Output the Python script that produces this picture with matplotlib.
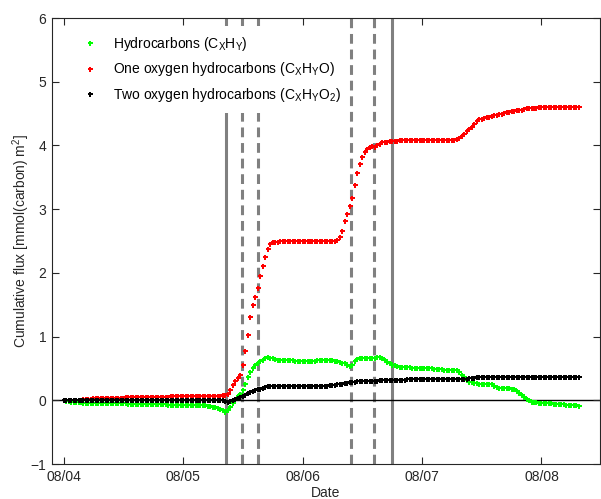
import numpy as np
import matplotlib
matplotlib.use("Agg")
import matplotlib.pyplot as plt

# Cumulative fluxes, sampled every 30 minutes starting 08/04 00:00
hydrocarbons = [
    0.00, -0.01, -0.01, -0.02, -0.02, -0.03, -0.03, -0.03, -0.04, -0.04, -0.04, -0.04,
    -0.05, -0.05, -0.05, -0.05, -0.05, -0.05, -0.05, -0.05, -0.05, -0.05, -0.05, -0.05,
    -0.05, -0.05, -0.06, -0.06, -0.06, -0.06, -0.06, -0.06, -0.06, -0.06, -0.06, -0.06,
    -0.06, -0.06, -0.06, -0.06, -0.06, -0.06, -0.07, -0.07, -0.07, -0.07, -0.07, -0.07,
    -0.07, -0.07, -0.07, -0.07, -0.07, -0.07, -0.07, -0.07, -0.08, -0.08, -0.09, -0.09,
    -0.10, -0.11, -0.12, -0.14, -0.16, -0.18, -0.16, -0.10, -0.04, 0.02, 0.06, 0.10,
    0.16, 0.25, 0.36, 0.44, 0.51, 0.55, 0.58, 0.61, 0.64, 0.67, 0.68, 0.67,
    0.66, 0.65, 0.64, 0.64, 0.64, 0.63, 0.63, 0.63, 0.63, 0.62, 0.62, 0.62,
    0.62, 0.62, 0.62, 0.62, 0.62, 0.62, 0.63, 0.63, 0.63, 0.63, 0.63, 0.63,
    0.63, 0.62, 0.61, 0.60, 0.59, 0.58, 0.56, 0.54, 0.56, 0.62, 0.65, 0.66,
    0.66, 0.66, 0.66, 0.67, 0.67, 0.67, 0.68, 0.68, 0.66, 0.63, 0.60, 0.58,
    0.56, 0.55, 0.54, 0.53, 0.52, 0.52, 0.52, 0.52, 0.51, 0.51, 0.51, 0.51,
    0.50, 0.50, 0.50, 0.50, 0.50, 0.49, 0.49, 0.49, 0.49, 0.48, 0.48, 0.48,
    0.48, 0.48, 0.47, 0.44, 0.40, 0.36, 0.32, 0.29, 0.28, 0.27, 0.27, 0.26,
    0.26, 0.26, 0.26, 0.26, 0.25, 0.23, 0.21, 0.20, 0.20, 0.20, 0.20, 0.19,
    0.18, 0.17, 0.15, 0.11, 0.08, 0.05, 0.02, 0.00, -0.02, -0.03, -0.03, -0.04,
    -0.04, -0.04, -0.05, -0.05, -0.05, -0.06, -0.06, -0.06, -0.06, -0.06, -0.07, -0.07,
    -0.07, -0.07, -0.08, -0.09,
]

one_oxygen = [
    0.00, 0.00, 0.00, 0.00, 0.01, 0.01, 0.01, 0.01, 0.02, 0.02, 0.02, 0.02,
    0.03, 0.03, 0.03, 0.03, 0.03, 0.04, 0.04, 0.04, 0.04, 0.04, 0.04, 0.04,
    0.04, 0.05, 0.05, 0.05, 0.05, 0.05, 0.05, 0.05, 0.05, 0.05, 0.05, 0.05,
    0.05, 0.05, 0.05, 0.05, 0.05, 0.05, 0.05, 0.06, 0.06, 0.06, 0.06, 0.06,
    0.06, 0.06, 0.06, 0.06, 0.06, 0.06, 0.06, 0.06, 0.06, 0.06, 0.07, 0.07,
    0.07, 0.07, 0.07, 0.07, 0.08, 0.08, 0.10, 0.16, 0.24, 0.30, 0.35, 0.40,
    0.55, 0.78, 1.02, 1.30, 1.50, 1.62, 1.77, 1.95, 2.10, 2.25, 2.38, 2.46,
    2.48, 2.49, 2.49, 2.50, 2.50, 2.50, 2.50, 2.50, 2.50, 2.50, 2.50, 2.50,
    2.50, 2.50, 2.50, 2.50, 2.50, 2.50, 2.50, 2.50, 2.50, 2.50, 2.50, 2.50,
    2.50, 2.50, 2.51, 2.56, 2.66, 2.82, 2.93, 3.05, 3.17, 3.38, 3.56, 3.71,
    3.82, 3.89, 3.94, 3.98, 3.99, 3.97, 4.00, 4.03, 4.05, 4.06, 4.06, 4.07,
    4.07, 4.07, 4.07, 4.08, 4.08, 4.08, 4.08, 4.08, 4.08, 4.08, 4.08, 4.08,
    4.09, 4.09, 4.09, 4.09, 4.09, 4.09, 4.09, 4.09, 4.09, 4.09, 4.09, 4.09,
    4.09, 4.09, 4.10, 4.12, 4.15, 4.18, 4.22, 4.26, 4.29, 4.33, 4.38, 4.41,
    4.42, 4.43, 4.44, 4.45, 4.46, 4.47, 4.48, 4.49, 4.50, 4.51, 4.53, 4.53,
    4.54, 4.54, 4.55, 4.55, 4.56, 4.57, 4.58, 4.58, 4.59, 4.59, 4.59, 4.60,
    4.60, 4.60, 4.60, 4.60, 4.60, 4.60, 4.60, 4.60, 4.60, 4.60, 4.60, 4.60,
    4.60, 4.60, 4.60, 4.60,
]

two_oxygen = [
    0.00, 0.00, 0.00, 0.00, 0.00, 0.00, 0.00, 0.00, 0.00, 0.00, 0.00, 0.00,
    0.00, 0.00, 0.00, 0.00, 0.00, 0.00, 0.00, 0.00, 0.00, 0.00, 0.00, 0.00,
    0.00, 0.00, 0.00, 0.00, 0.00, 0.00, 0.00, 0.00, 0.00, 0.00, 0.00, 0.00,
    0.00, 0.00, 0.00, 0.00, 0.00, 0.00, 0.00, 0.00, 0.00, 0.00, 0.00, 0.00,
    0.00, 0.00, 0.00, 0.00, 0.00, 0.00, 0.00, 0.00, 0.00, 0.00, 0.00, 0.00,
    0.00, 0.00, 0.00, 0.00, 0.00, -0.01, -0.02, -0.01, 0.00, 0.02, 0.04, 0.05,
    0.06, 0.08, 0.11, 0.13, 0.15, 0.16, 0.17, 0.18, 0.20, 0.21, 0.22, 0.22,
    0.22, 0.22, 0.22, 0.22, 0.22, 0.22, 0.22, 0.22, 0.22, 0.22, 0.22, 0.22,
    0.22, 0.22, 0.22, 0.22, 0.23, 0.23, 0.23, 0.23, 0.23, 0.23, 0.23, 0.24,
    0.24, 0.24, 0.25, 0.25, 0.26, 0.27, 0.27, 0.28, 0.28, 0.29, 0.30, 0.30,
    0.30, 0.31, 0.31, 0.31, 0.31, 0.31, 0.31, 0.32, 0.32, 0.32, 0.32, 0.32,
    0.32, 0.32, 0.32, 0.32, 0.32, 0.32, 0.33, 0.33, 0.33, 0.33, 0.33, 0.33,
    0.33, 0.33, 0.33, 0.33, 0.33, 0.33, 0.33, 0.33, 0.33, 0.33, 0.33, 0.33,
    0.33, 0.33, 0.33, 0.33, 0.33, 0.34, 0.34, 0.35, 0.35, 0.35, 0.36, 0.36,
    0.36, 0.37, 0.37, 0.37, 0.37, 0.37, 0.37, 0.37, 0.37, 0.37, 0.37, 0.37,
    0.37, 0.37, 0.37, 0.37, 0.37, 0.37, 0.37, 0.37, 0.37, 0.37, 0.37, 0.37,
    0.37, 0.37, 0.37, 0.37, 0.37, 0.37, 0.37, 0.37, 0.37, 0.37, 0.37, 0.37,
    0.37, 0.37, 0.37, 0.37,
]

# Event markers (days after 08/04 00:00)
solid_events = [1.359, 2.753]
dashed_events = [1.493, 1.624, 2.408, 2.600]

day_ticks = [0, 1, 2, 3, 4]
day_labels = ["08/04", "08/05", "08/06", "08/07", "08/08"]
y_ticks = [-1, 0, 1, 2, 3, 4, 5, 6]

series_labels = [
    r"Hydrocarbons (C$_\mathregular{X}$H$_\mathregular{Y}$)",
    r"One oxygen hydrocarbons (C$_\mathregular{X}$H$_\mathregular{Y}$O)",
    r"Two oxygen hydrocarbons (C$_\mathregular{X}$H$_\mathregular{Y}$O$_\mathregular{2}$)",
]
series_colors = ["#00ff00", "#ff0000", "#000000"]

plt.rcParams["font.family"] = ["Liberation Sans", "DejaVu Sans"]
plt.rcParams["mathtext.default"] = "regular"

t = np.arange(len(one_oxygen)) / 48.0

fig = plt.figure(figsize=(6.01, 4.99), dpi=100)
ax = fig.add_axes([52 / 601, 35 / 499, 548 / 601, 446 / 499])

for x in solid_events:
    ax.axvline(x, color="#808080", lw=2.2, zorder=1)
for x in dashed_events:
    ax.axvline(x, color="#808080", lw=2.2, dashes=(3.2, 1.9), zorder=1)
ax.axhline(0, color="black", lw=1.0, zorder=1)

for vals, lab, col in zip([hydrocarbons, one_oxygen, two_oxygen], series_labels, series_colors):
    ax.plot(t, vals, linestyle="none", marker="P", markersize=3.6,
            markeredgewidth=0, color=col, label=lab, zorder=3)

ax.set_xlim(-0.097, 4.49)
ax.set_ylim(-1, 6)
ax.set_xticks(day_ticks)
ax.set_xticklabels(day_labels)
ax.set_yticks(y_ticks)
ax.tick_params(direction="in", top=True, right=True, length=5, labelsize=10,
               colors="#262626", pad=4)
for s in ax.spines.values():
    s.set_color("#262626")
    s.set_linewidth(0.8)

ax.set_xlabel("Date", fontsize=10, labelpad=2, color="#262626")
ax.set_ylabel("Cumulative flux [mmol(carbon) m$^{2}$]", fontsize=10, labelpad=-1,
              color="#262626")

leg = ax.legend(loc="upper left", bbox_to_anchor=(0.033, 0.991), fontsize=10,
                frameon=True, fancybox=False, handlelength=1.0, handletextpad=1.2,
                labelspacing=0.57, borderpad=0.6, borderaxespad=0.3,
                markerscale=1.0)
leg.get_frame().set_facecolor("white")
leg.get_frame().set_edgecolor("none")
leg.get_frame().set_alpha(1.0)
leg.set_zorder(5)

fig.savefig("out.png", dpi=100)
